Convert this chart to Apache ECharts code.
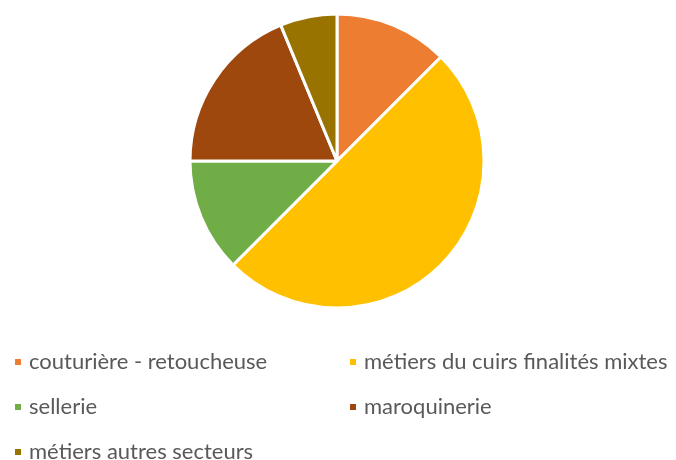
<!DOCTYPE html>
<html><head><meta charset="utf-8">
<script src="https://cdn.jsdelivr.net/npm/echarts@6/dist/echarts.min.js"></script>
<style>html,body{margin:0;padding:0;background:#fff}#c{width:676px;height:460px}</style>
</head><body><div id="c"></div>
<script>
const categories = ['couturière - retoucheuse','métiers du cuirs finalités mixtes','sellerie','maroquinerie','métiers autres secteurs'];
const values = [2, 8, 2, 3, 1];
const colors = ['#ED7D31','#FFC000','#70AD47','#9E480E','#997300'];
const legendPos = [[13,351],[348,351],[13,396],[348,396],[13,441]];
const chart = echarts.init(document.getElementById('c'));
chart.setOption({
  animation:false,
  color: colors,
  legend: categories.map((n,i)=>({
    data:[n], left:legendPos[i][0], top:legendPos[i][1], padding:0,
    icon:'rect', itemWidth:8, itemHeight:8, itemGap:0,
    textStyle:{fontFamily:'Lato', fontSize:22, lineHeight:22, color:'#595959', padding:[0,0,0,2]},
    selectedMode:false
  })),
  series:[{
    type:'pie', center:[337,161], radius:[0,147], startAngle:90, clockwise:true,
    label:{show:false}, labelLine:{show:false}, silent:true,
    itemStyle:{borderColor:'#fff', borderWidth:3},
    data: categories.map((n,i)=>({name:n, value:values[i]}))
  }]
});
</script></body></html>
